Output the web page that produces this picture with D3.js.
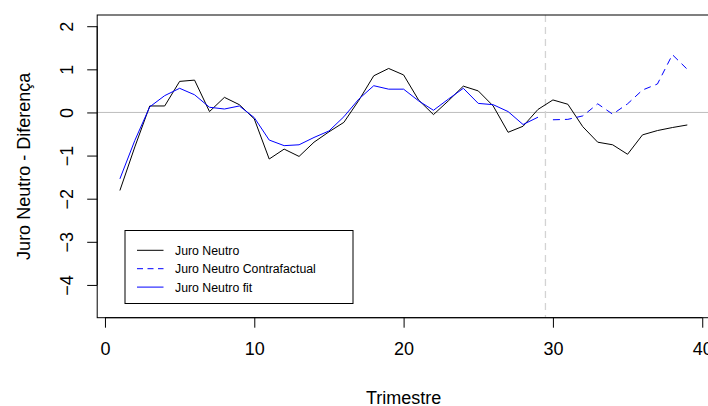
<!DOCTYPE html>
<html>
<head>
<meta charset="utf-8">
<script src="https://cdn.jsdelivr.net/npm/d3@7"></script>
<style>
  html, body { margin: 0; padding: 0; background: #fff; }
  svg { display: block; font-family: "Liberation Sans", Arial, sans-serif; }
</style>
</head>
<body>
<svg id="chart" width="708" height="406"></svg>
<script>
// ---- data ----
const trimestre = [1,2,3,4,5,6,7,8,9,10,11,12,13,14,15,16,17,18,19,20,21,22,23,24,25,26,27,28,29,30,31,32,33,34,35,36,37,38,39];
const juroNeutro = [-1.81,-0.80,0.15,0.15,0.72,0.75,0.02,0.35,0.18,-0.15,-1.08,-0.85,-1.02,-0.69,-0.45,-0.23,0.28,0.85,1.02,0.87,0.29,-0.05,0.27,0.61,0.50,0.15,-0.46,-0.32,0.07,0.29,0.19,-0.33,-0.69,-0.75,-0.97,-0.52,-0.42,-0.35,-0.29];
const trimestreFit = [1,2,3,4,5,6,7,8,9,10,11,12,13,14,15,16,17,18,19,20,21,22,23,24,25,26,27,28,29];
const juroFit = [-1.54,-0.65,0.13,0.39,0.56,0.41,0.12,0.08,0.15,-0.12,-0.64,-0.77,-0.75,-0.58,-0.43,-0.10,0.31,0.62,0.54,0.54,0.27,0.05,0.31,0.56,0.21,0.18,0.02,-0.28,-0.11];
const trimestreContra = [30,31,32,33,34,35,36,37,38,39];
const juroContra = [-0.17,-0.16,-0.08,0.20,-0.04,0.20,0.52,0.66,1.34,1.00];
const xTicks = [0,10,20,30,40];
const yTicks = [2,1,0,-1,-2,-3,-4];
const breakPoint = 29.5;
const legendLabels = ["Juro Neutro","Juro Neutro Contrafactual","Juro Neutro fit"];

// ---- layout ----
const svg = d3.select("#chart");
const x = d3.scaleLinear().domain([-0.52, 40.52]).range([97.2, 710]);
const y = d3.scaleLinear().domain([-4.76, 2.26]).range([317.7, 15]);

// zero reference line
svg.append("line")
  .attr("x1", x.range()[0]).attr("x2", x.range()[1])
  .attr("y1", y(0)).attr("y2", y(0))
  .attr("stroke", "#bebebe").attr("stroke-width", 1);

// vertical break line
svg.append("line")
  .attr("x1", x(breakPoint)).attr("x2", x(breakPoint))
  .attr("y1", y.range()[1]).attr("y2", y.range()[0])
  .attr("stroke", "#d3d3d3").attr("stroke-width", 1.3)
  .attr("stroke-dasharray", "7,5");

const line = d3.line().x(d => x(d[0])).y(d => y(d[1]));

svg.append("path")
  .datum(trimestre.map((t, i) => [t, juroNeutro[i]]))
  .attr("d", line).attr("fill", "none")
  .attr("stroke", "#000").attr("stroke-width", 1);

svg.append("path")
  .datum(trimestreFit.map((t, i) => [t, juroFit[i]]))
  .attr("d", line).attr("fill", "none")
  .attr("stroke", "#0000ff").attr("stroke-width", 1);

svg.append("path")
  .datum(trimestreContra.map((t, i) => [t, juroContra[i]]))
  .attr("d", line).attr("fill", "none")
  .attr("stroke", "#0000ff").attr("stroke-width", 1)
  .attr("stroke-dasharray", "7,5");

// plot box
svg.append("rect")
  .attr("x", x.range()[0]).attr("y", y.range()[1])
  .attr("width", x.range()[1] - x.range()[0])
  .attr("height", y.range()[0] - y.range()[1])
  .attr("fill", "none").attr("stroke", "#000").attr("stroke-width", 1);

// x axis
const xAxis = d3.axisBottom(x).tickValues(xTicks).tickSize(10).tickPadding(15).tickFormat(d3.format("d"));
const gx = svg.append("g").attr("transform", `translate(0,${y.range()[0]})`).call(xAxis);
gx.select(".domain").attr("d", `M${x(0)},0H${x(40)}`).attr("stroke", "#000");
gx.selectAll(".tick line").attr("stroke", "#000");
gx.selectAll(".tick text").attr("font-size", 18).attr("fill", "#000")
  .attr("font-family", "Liberation Sans, Arial, sans-serif").attr("dy", "0.71em");

// y axis
const yAxis = d3.axisLeft(y).tickValues(yTicks).tickSize(10).tickFormat(d3.format("d"));
const gy = svg.append("g").attr("transform", `translate(${x.range()[0]},0)`).call(yAxis);
gy.select(".domain").attr("d", `M0,${y(-4)}V${y(2)}`).attr("stroke", "#000");
gy.selectAll(".tick line").attr("stroke", "#000");
gy.selectAll(".tick text").remove();
gy.selectAll(".tick").append("text")
  .attr("transform", "translate(-24.5,0) rotate(-90)")
  .attr("text-anchor", "middle")
  .attr("font-size", 18).attr("fill", "#000")
  .attr("font-family", "Liberation Sans, Arial, sans-serif")
  .text(d => d3.format("d")(d));

// axis titles
svg.append("text")
  .attr("x", (x(0) + x(40)) / 2).attr("y", 404)
  .attr("text-anchor", "middle").attr("font-size", 18).attr("fill", "#000")
  .text("Trimestre");
svg.append("text")
  .attr("transform", `translate(29.5,${(y.range()[0] + y.range()[1]) / 2}) rotate(-90)`)
  .attr("text-anchor", "middle").attr("font-size", 18).attr("fill", "#000")
  .text("Juro Neutro - Diferença");

// legend
const legend = svg.append("g");
legend.append("rect")
  .attr("x", 125).attr("y", 230.5).attr("width", 228).attr("height", 73)
  .attr("fill", "#fff").attr("stroke", "#000").attr("stroke-width", 1);
const legStyles = [
  {stroke: "#000", dash: null},
  {stroke: "#0000ff", dash: "6,4.5"},
  {stroke: "#0000ff", dash: null}
];
legendLabels.forEach((lab, i) => {
  const cy = 250.3 + i * 18.4;
  legend.append("line")
    .attr("x1", 137).attr("x2", 163.5).attr("y1", cy).attr("y2", cy)
    .attr("stroke", legStyles[i].stroke).attr("stroke-width", 1)
    .attr("stroke-dasharray", legStyles[i].dash);
  legend.append("text")
    .attr("x", 175).attr("y", cy + 4.5)
    .attr("font-size", 12.3).attr("fill", "#000")
    .text(lab);
});
</script>
</body>
</html>
